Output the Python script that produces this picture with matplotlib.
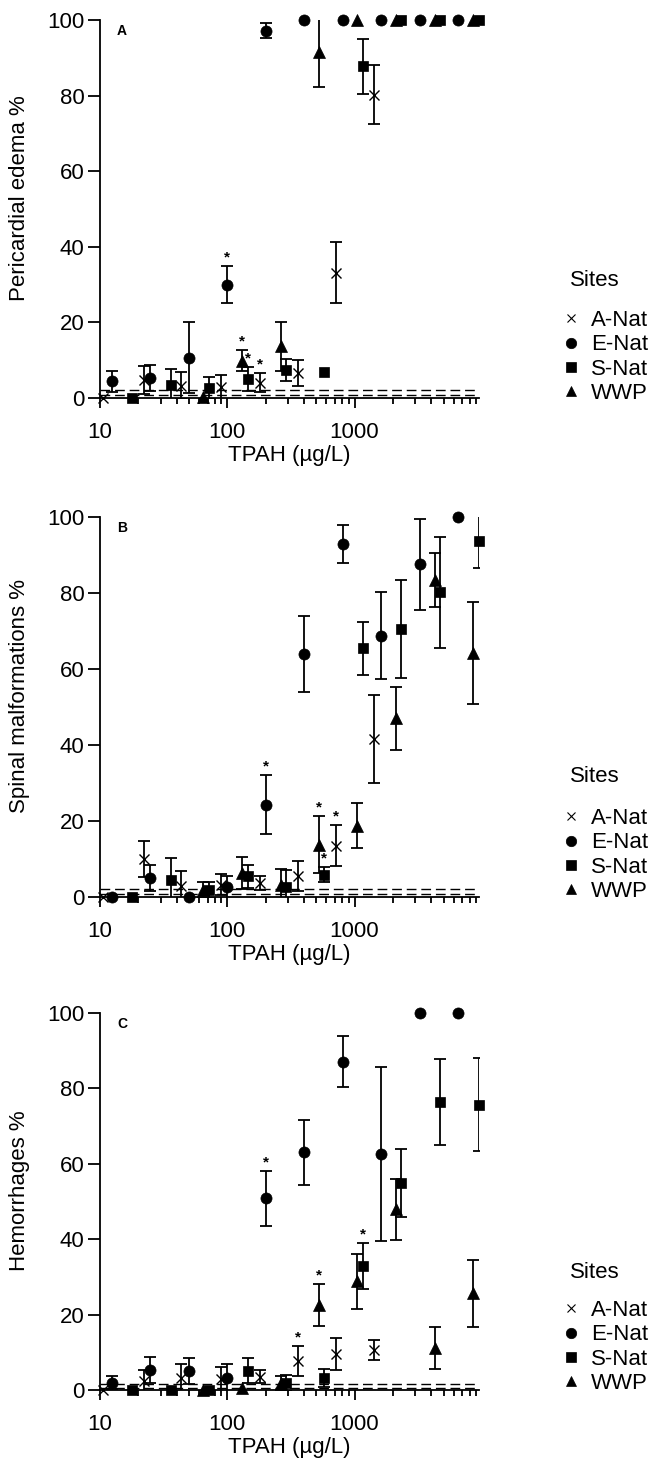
import numpy as np
import matplotlib
matplotlib.use('Agg')
import matplotlib.pyplot as plt
from matplotlib.lines import Line2D

plt.rcParams['font.family'] = ['Liberation Sans', 'DejaVu Sans']

# TPAH concentrations (ug/L) per site
x_anat = [10.6, 22, 43, 89, 180, 357, 710, 1420]
x_enat = [12.4, 24.8, 50, 100, 202, 402, 808, 1620, 3250, 6460]
x_snat = [17.8, 36, 72, 146, 288, 578, 1160, 2330, 4660, 9450]
x_wwp = [65, 131, 264, 523, 1050, 2100, 4270, 8540]

# panel A - pericardial edema
pe_anat = [0, 4.8, 3.3, 2.8, 4.0, 6.6, 33.2, 80.2]
pe_anat_err = [0, 3.7, 3.5, 3.2, 2.5, 3.4, 8.0, 7.8]
pe_enat = [4.4, 5.3, 10.6, 30.0, 97.2, 100, 100, 100, 100, 100]
pe_enat_err = [2.8, 3.5, 9.4, 4.8, 2.0, 0, 0, 0, 0, 0]
pe_snat = [0, 3.5, 2.6, 5.0, 7.3, 7.0, 87.8, 100, 100, 100]
pe_snat_err = [0, 4.2, 2.9, 3.1, 2.9, 0, 7.3, 0, 0, 0]
pe_wwp = [0.3, 9.9, 13.7, 91.6, 100, 100, 100, 100]
pe_wwp_err = [0, 2.8, 6.5, 9.2, 0, 0, 0, 0]
pe_sig = {'A-Nat': [4], 'E-Nat': [3], 'S-Nat': [3], 'WWP': [1]}
pe_ctrl = [2.0, 0.7]

# panel B - spinal malformations
sm_anat = [0, 10.0, 3.0, 3.2, 3.6, 5.5, 13.5, 41.6]
sm_anat_err = [0, 4.7, 3.8, 2.8, 1.8, 3.9, 5.4, 11.6]
sm_enat = [0, 4.9, 0, 2.5, 24.3, 63.9, 92.9, 68.8, 87.5, 100]
sm_enat_err = [0, 3.4, 0, 2.9, 7.7, 10.0, 5.0, 11.4, 12.0, 0]
sm_snat = [0, 4.5, 1.8, 5.4, 2.7, 5.9, 65.4, 70.4, 80.2, 93.6]
sm_snat_err = [0, 5.7, 2.1, 3.0, 4.4, 1.9, 7.0, 12.9, 14.6, 6.9]
sm_wwp = [1.8, 6.2, 3.2, 13.8, 18.8, 47.0, 83.5, 64.2]
sm_wwp_err = [2.1, 4.2, 4.1, 7.4, 6.0, 8.2, 7.1, 13.3]
sm_sig = {'A-Nat': [6], 'E-Nat': [4], 'S-Nat': [5], 'WWP': [3]}
sm_ctrl = [2.0, 0.8]

# panel C - hemorrhages
hm_anat = [0, 2.5, 3.1, 2.8, 3.5, 7.8, 9.6, 10.6]
hm_anat_err = [0, 2.9, 3.7, 3.3, 1.7, 4.0, 4.3, 2.6]
hm_enat = [1.9, 5.3, 5.0, 3.1, 50.8, 63.0, 87.1, 62.6, 100, 100]
hm_enat_err = [1.7, 3.5, 3.5, 3.7, 7.4, 8.5, 6.8, 23.0, 0, 0]
hm_snat = [0, 0, 0, 5.1, 1.9, 3.3, 32.9, 54.9, 76.4, 75.7]
hm_snat_err = [0, 0, 0, 3.3, 2.1, 2.4, 6.1, 9.1, 11.4, 12.3]
hm_wwp = [0, 0.4, 1.9, 22.6, 28.8, 48.0, 11.2, 25.7]
hm_wwp_err = [0, 0, 1.8, 5.5, 7.3, 8.1, 5.5, 8.9]
hm_sig = {'A-Nat': [5], 'E-Nat': [4], 'S-Nat': [6], 'WWP': [3]}
hm_ctrl = [1.5, 0.6]

sites = ['A-Nat', 'E-Nat', 'S-Nat', 'WWP']
xs = {'A-Nat': x_anat, 'E-Nat': x_enat, 'S-Nat': x_snat, 'WWP': x_wwp}
markers = {'A-Nat': 'x', 'E-Nat': 'o', 'S-Nat': 's', 'WWP': '^'}
msize = {'A-Nat': 7.5, 'E-Nat': 8, 'S-Nat': 7.5, 'WWP': 8}

panels = [
    ('A', 'Pericardial edema %',
     {'A-Nat': (pe_anat, pe_anat_err), 'E-Nat': (pe_enat, pe_enat_err),
      'S-Nat': (pe_snat, pe_snat_err), 'WWP': (pe_wwp, pe_wwp_err)}, pe_sig, pe_ctrl),
    ('B', 'Spinal malformations %',
     {'A-Nat': (sm_anat, sm_anat_err), 'E-Nat': (sm_enat, sm_enat_err),
      'S-Nat': (sm_snat, sm_snat_err), 'WWP': (sm_wwp, sm_wwp_err)}, sm_sig, sm_ctrl),
    ('C', 'Hemorrhages %',
     {'A-Nat': (hm_anat, hm_anat_err), 'E-Nat': (hm_enat, hm_enat_err),
      'S-Nat': (hm_snat, hm_snat_err), 'WWP': (hm_wwp, hm_wwp_err)}, hm_sig, hm_ctrl),
]

W, H = 666, 1467
FS = 16
fig = plt.figure(figsize=(W / 100, H / 100), dpi=100)

# pixel boxes of the three axes (top, bottom)
boxes = [(20, 398), (517, 897), (1013, 1390)]
legend_y = [310, 808, 1300]
title_y = [280, 776, 1272]
left_px, right_px = 100, 479

for (letter, ylab, data, sig, ctrl), (top, bot), ly, ty in zip(panels, boxes, legend_y, title_y):
    ax = fig.add_axes([left_px / W, 1 - bot / H, (right_px - left_px) / W, (bot - top) / H])
    ax.set_xscale('log')
    ax.set_xlim(10, 9500)
    ax.set_ylim(0, 100)

    for c in ctrl:
        ax.axhline(c, color='k', lw=1.0, ls=(0, (7, 3.5)), zorder=1)

    for s in sites:
        x = np.array(xs[s])
        y, e = np.array(data[s][0]), np.array(data[s][1])
        m = e > 0
        ax.errorbar(x[m], y[m], yerr=e[m], fmt='none', ecolor='k',
                    elinewidth=1.3, capsize=4, capthick=1.3, zorder=2)
        ax.plot(x, y, ls='none', marker=markers[s], ms=msize[s], color='k',
                mew=1.0 if s == 'A-Nat' else 0.5, clip_on=False, zorder=3)
        for i in sig[s]:
            ax.text(x[i], y[i] + e[i] + 0.4, '*', ha='center', va='bottom',
                    fontsize=11, fontweight='bold')

    ax.spines['top'].set_visible(False)
    ax.spines['right'].set_visible(False)
    ax.spines['left'].set_linewidth(1.3)
    ax.spines['bottom'].set_linewidth(1.3)
    ax.set_yticks([0, 20, 40, 60, 80, 100])
    ax.set_xticks([10, 100, 1000])
    ax.set_xticklabels(['10', '100', '1000'])
    ax.tick_params(axis='y', length=9, width=1.3, labelsize=FS, pad=2)
    ax.tick_params(axis='x', which='major', length=7, width=1.3, labelsize=FS, pad=10)
    ax.tick_params(axis='x', which='minor', length=4, width=1.3)
    ax.set_ylabel(ylab, fontsize=FS)
    ax.yaxis.set_label_coords(-0.185, 0.53)
    ax.set_xlabel('TPAH (\u00b5g/L)', fontsize=FS)
    ax.xaxis.set_label_coords(0.5, -0.125)

    ax.text(0.045, 0.97, letter, transform=ax.transAxes, fontsize=10,
            fontweight='bold', ha='left', va='center')

    handles = [Line2D([], [], ls='none', marker=markers[s], color='k',
                      ms=6 if s == 'A-Nat' else 7.5, mew=0.8 if s == 'A-Nat' else 0.5)
               for s in sites]
    fig.text(570 / W, 1 - ty / H, 'Sites', fontsize=FS, ha='left', va='center')
    fig.legend(handles, sites, loc='upper left', bbox_to_anchor=(562 / W, 1 - ly / H),
               frameon=False, fontsize=FS, handlelength=0.8, handletextpad=0.5,
               labelspacing=0.15, borderpad=0, borderaxespad=0)

fig.savefig('out.png', dpi=100)
